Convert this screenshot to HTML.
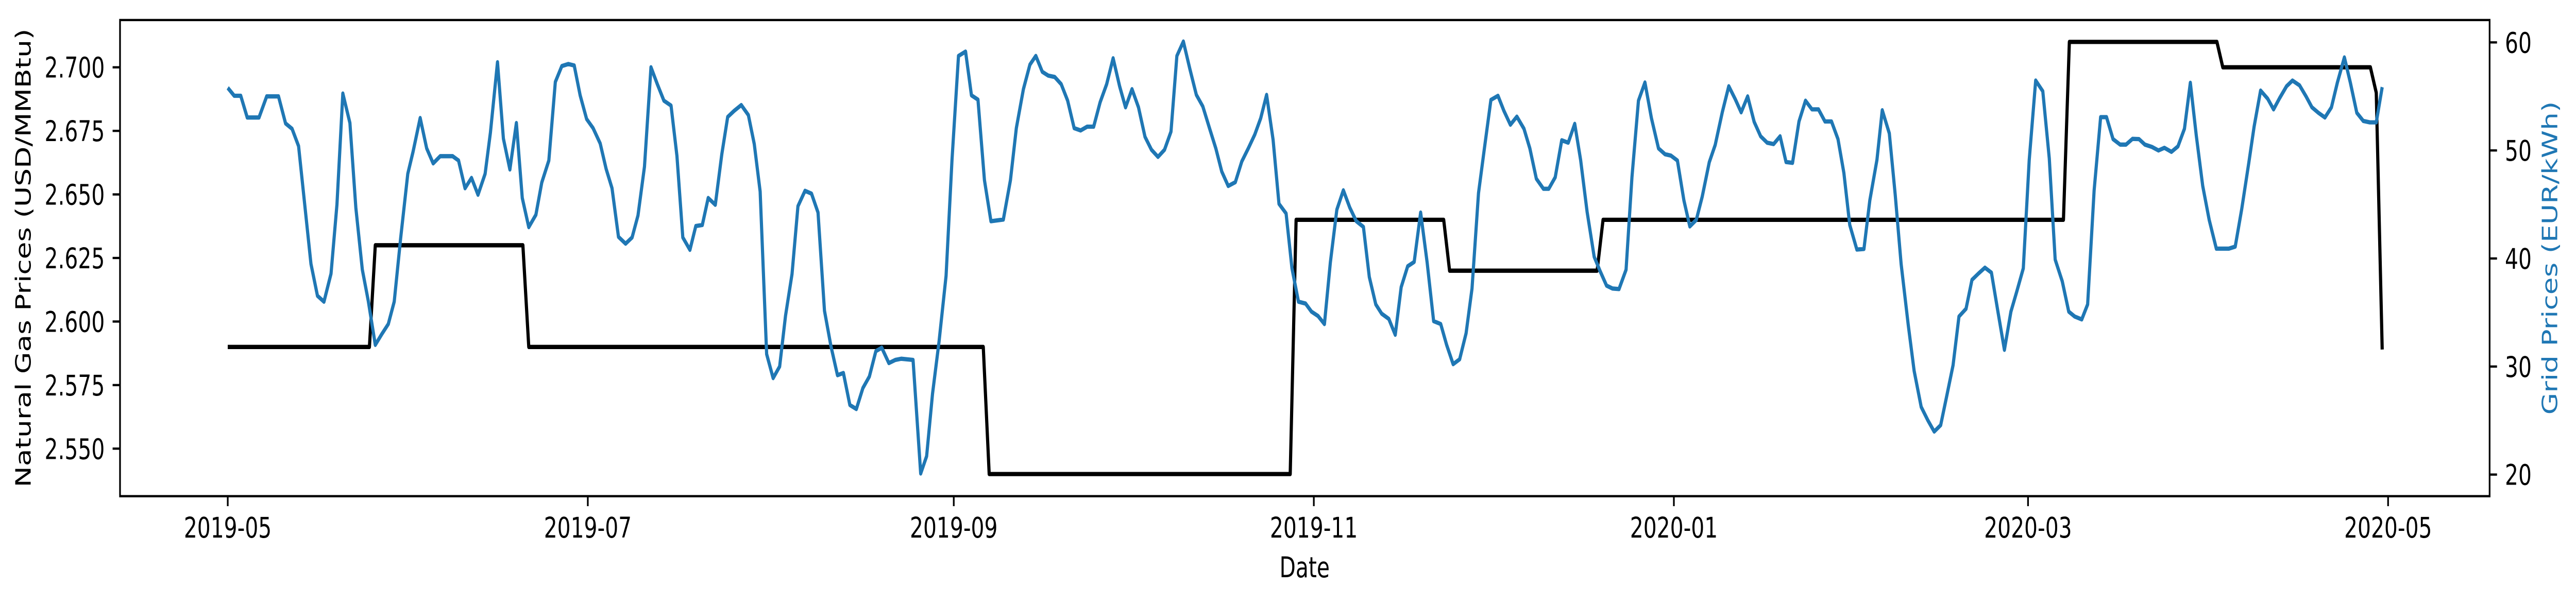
<!DOCTYPE html>
<html><head><meta charset="utf-8"><title>Natural gas vs grid prices</title>
<style>html,body{margin:0;padding:0;background:#fff;width:100%;height:100%;overflow:hidden}svg{display:block;position:absolute;left:0;top:0;width:100vw;height:100vh}text{font-family:"DejaVu Sans","Liberation Sans",sans-serif}</style>
</head><body>
<svg id="chart" xmlns="http://www.w3.org/2000/svg" viewBox="0 0 6739 1173" preserveAspectRatio="none">
<rect width="6739" height="1173" fill="#fff"/>
<g id="plot"></g>
<text x="3413" y="1121" font-size="55" text-anchor="middle">Date</text>
<text transform="translate(80,501) rotate(-90)" font-size="55" text-anchor="middle">Natural Gas Prices (USD/MMBtu)</text>
<text transform="translate(6690,501) rotate(-90)" font-size="55" text-anchor="middle" fill="#1f77b4">Grid Prices (EUR/kWh)</text>
</svg>
<script>
// Day offsets from 2019-05-01
const gasDays = [0,24,25,50,51,128,129,180,181,206,207,232,233,311,312,337,338,363,364,365];
const gasPrices = [2.59,2.59,2.63,2.63,2.59,2.59,2.54,2.54,2.64,2.64,2.62,2.62,2.64,2.64,2.71,2.71,2.70,2.70,2.69,2.589];
const gridDays = [0,1.1,2.2,3.3,5.3,6.6,8.6,9.8,10.9,12,14.1,15.2,16.3,17.5,18.5,19.5,20.7,21.7,22.8,23.8,25,26.1,27.2,28.2,29.3,30.5,31.4,32.6,33.7,34.8,36,38.1,39.1,40.2,41.3,42.4,43.6,44.5,45.7,46.7,47.8,48.9,49.9,51,52.2,53.2,54.4,55.5,56.6,57.7,58.7,59.7,60.8,61.9,63.1,64.1,65.1,66.2,67.4,68.5,69.5,70.6,71.7,72.8,73.9,75.1,76.1,77.1,78.3,79.3,80.4,81.4,82.6,83.7,84.7,85.8,87,88.2,89.2,90.2,91.3,92.4,93.5,94.5,95.6,96.6,97.8,98.9,100,101.1,102.2,103.3,104.3,105.4,106.5,107.6,108.7,109.8,110.8,112,113.1,114.1,116.1,117.4,118.4,119.4,120.5,121.7,122.7,123.8,125,126,127.1,128.2,129.3,131.4,132.6,133.6,134.8,135.9,136.9,138,139,140.1,141.2,142.3,143.4,144.5,145.6,146.7,147.8,148.9,150,151.1,152.1,153.2,154.3,155.4,156.5,157.6,158.7,159.8,160.8,161.9,163,164.1,165.2,166.4,167.4,168.4,169.5,170.7,171.8,172.9,174,175,176,177.1,178.1,179.3,180.3,181.4,182.6,183.6,184.7,185.8,186.8,187.9,189,190.1,191.2,192.4,193.4,194.5,195.5,196.7,197.8,198.8,199.9,201,202.1,203.2,204.3,205.5,206.5,207.6,208.7,209.8,210.8,211.9,212.9,214,215.2,216.2,217.3,218.4,219.6,220.6,221.7,222.9,223.8,224.9,226,227.1,228.2,229.2,230.3,231.5,232.5,233.6,234.6,235.7,236.9,237.9,239,240.1,241.2,242.4,243.5,244.5,245.6,246.7,247.7,248.8,249.8,251,252,253.2,254.3,255.4,256.4,257.5,258.6,259.7,260.8,261.9,263,264,265.1,266.2,267.3,268.4,269.5,270.6,271.7,272.8,273.8,274.8,276,277.2,278.2,279.4,280.3,281.5,282.5,283.5,284.7,285.7,286.9,288,289.1,290.2,291.3,292.3,293.3,294.5,295.5,296.6,297.7,298.8,299.9,301,302.1,303.1,304.2,305.2,306.3,307.5,308.6,309.6,310.8,311.9,312.9,314.1,315.1,316.2,317.3,318.3,319.4,320.6,321.6,322.7,323.8,324.8,326,327.1,328.1,329.3,330.4,331.5,332.5,333.5,334.6,335.7,336.9,339,340.1,341.2,342.4,343.3,344.4,345.6,346.6,347.6,348.8,349.8,351,352.1,353.1,354.2,355.3,356.4,357.4,358.6,359.6,360.7,361.8,362.9,364,365];
const gridPrices = [55.8,55.06,55.06,53.05,53.05,55,55,52.5,52,50.4,39.5,36.55,36,38.6,45,55.27,52.54,44.7,38.96,36.1,32,33,33.93,36,41.9,47.84,49.9,53,50.2,48.8,49.47,49.47,49.07,46.5,47.46,45.9,47.84,51.66,58.16,51.1,48.24,52.54,45.6,42.9,44.04,47.03,49.07,56.34,57.81,58,57.86,55.1,52.9,52.06,50.64,48.3,46.5,42,41.37,41.95,43.98,48.5,57.7,56.1,54.6,54.15,49.5,41.95,40.8,43,43.1,45.6,44.97,49.65,53.1,53.67,54.2,53.27,50.6,46.2,31.15,28.93,30,34.7,38.56,44.84,46.26,46,44.25,35.16,31.87,29.2,29.4,26.44,26.07,28,29.07,31.42,31.74,30.32,30.61,30.72,30.61,20.1,21.7,27.46,32.27,38.4,49.12,58.75,59.15,55.1,54.7,47.25,43.45,43.6,47.25,52.06,55.67,57.94,58.75,57.28,56.93,56.8,56.13,54.6,52.06,51.85,52.2,52.2,54.47,56.13,58.53,55.94,53.99,55.67,53.99,51.26,50.06,49.4,50.06,51.74,58.75,60.08,57.54,55.14,54.07,51.93,50.19,48.05,46.71,47.06,48.99,50.19,51.47,52.98,55.14,50.99,45.06,44.17,39.09,36,35.83,35.08,34.68,33.93,39.63,44.52,46.31,44.71,43.45,42.92,38.29,35.75,34.89,34.41,32.94,37.35,39.28,39.68,44.25,39.63,34.2,33.93,32,30.22,30.67,33.08,37.22,46.05,50.19,54.68,55.06,53.67,52.38,53.13,52.01,50.19,47.38,46.45,46.45,47.52,50.94,50.72,52.46,49.12,44.31,40.16,38.83,37.49,37.22,37.17,38.96,47.52,54.6,56.29,52.98,50.19,49.65,49.52,49.07,45.38,42.97,43.58,45.72,48.91,50.51,53.53,55.94,54.74,53.53,55,52.65,51.31,50.72,50.59,51.31,48.93,48.85,52.68,54.6,53.8,53.8,52.68,52.68,51.05,47.92,43.1,40.83,40.88,45.38,49.12,53.72,51.58,45.91,39.49,33.88,29.6,26.26,25.05,23.98,24.57,27.46,30.13,34.63,35.35,38.02,38.61,39.15,38.69,35.08,31.55,35.08,36.95,39.09,49.12,56.47,55.48,49.25,39.9,37.89,35.08,34.63,34.36,35.75,46.31,53.08,53.08,51.05,50.54,50.54,51.07,51.05,50.54,50.32,50,50.24,49.87,50.38,52.01,56.26,51.39,46.71,43.56,40.91,40.91,41.1,44.57,48.85,52.2,55.54,54.79,53.8,54.82,55.94,56.47,56.02,55,53.99,53.48,53.05,53.99,56.26,58.61,56.29,53.48,52.73,52.6,52.6,55.86];
const xTickDays = [0,61,123,184,245,305,366];
const xTickLabels = ["2019-05","2019-07","2019-09","2019-11","2020-01","2020-03","2020-05"];
const leftTicks = [2.550,2.575,2.600,2.625,2.650,2.675,2.700];
const leftTickLabels = ["2.550","2.575","2.600","2.625","2.650","2.675","2.700"];
const rightTicks = [20,30,40,50,60];
const rightTickLabels = ["20","30","40","50","60"];

const L=314,R=6513,T=38.9,B=963.6;
const xMin=-18.25,xMax=383.2, yLmin=2.5313,yLmax=2.7186, yRmin=18.0,yRmax=62.07;
const X=d=>L+(d-xMin)/(xMax-xMin)*(R-L);
const YL=v=>B-(v-yLmin)/(yLmax-yLmin)*(B-T);
const YR=v=>B-(v-yRmin)/(yRmax-yRmin)*(B-T);
const NS="http://www.w3.org/2000/svg";
const g=document.getElementById('plot');
function mk(tag,attrs){const e=document.createElementNS(NS,tag);for(const k in attrs)e.setAttribute(k,attrs[k]);g.appendChild(e);return e;}

const gasPath=mk('path',{d:gasDays.map((d,i)=>(i?'L':'M')+X(d).toFixed(1)+','+YL(gasPrices[i]).toFixed(1)).join(''),fill:'none',stroke:'#000','stroke-width':8.3,'stroke-linejoin':'round'});


const gridPath=mk('path',{d:gridDays.map((d,i)=>(i?'L':'M')+X(d).toFixed(1)+','+YR(gridPrices[i]).toFixed(1)).join(''),fill:'none',stroke:'#1f77b4','stroke-width':8.3,'stroke-linejoin':'round'});



const frame=mk('rect',{x:L,y:T,width:R-L,height:B-T,fill:'none',stroke:'#000','stroke-width':4.4});



xTickDays.forEach((d,i)=>{
  const x=X(d);
  const t=mk('line',{x1:x,x2:x,y1:B,y2:B+19.4,stroke:'#000','stroke-width':4.4});
  
  
  const lb=mk('text',{x:x,y:1044,'font-size':55,'text-anchor':'middle',fill:'#000'});
  lb.textContent=xTickLabels[i];
  
  
});
leftTicks.forEach((v,i)=>{
  const y=YL(v);
  const t=mk('line',{x1:L-19.4,x2:L,y1:y,y2:y,stroke:'#000','stroke-width':4.4});
  
  
  const lb=mk('text',{x:274,y:y+20,'font-size':55,'text-anchor':'end',fill:'#000'});
  lb.textContent=leftTickLabels[i];
  
  
});
rightTicks.forEach((v,i)=>{
  const y=YR(v);
  const t=mk('line',{x1:R,x2:R+19.4,y1:y,y2:y,stroke:'#000','stroke-width':4.4});
  
  
  const lb=mk('text',{x:6553,y:y+20,'font-size':55,'text-anchor':'start',fill:'#000'});
  lb.textContent=rightTickLabels[i];
  
  
});
</script>
</body></html>
